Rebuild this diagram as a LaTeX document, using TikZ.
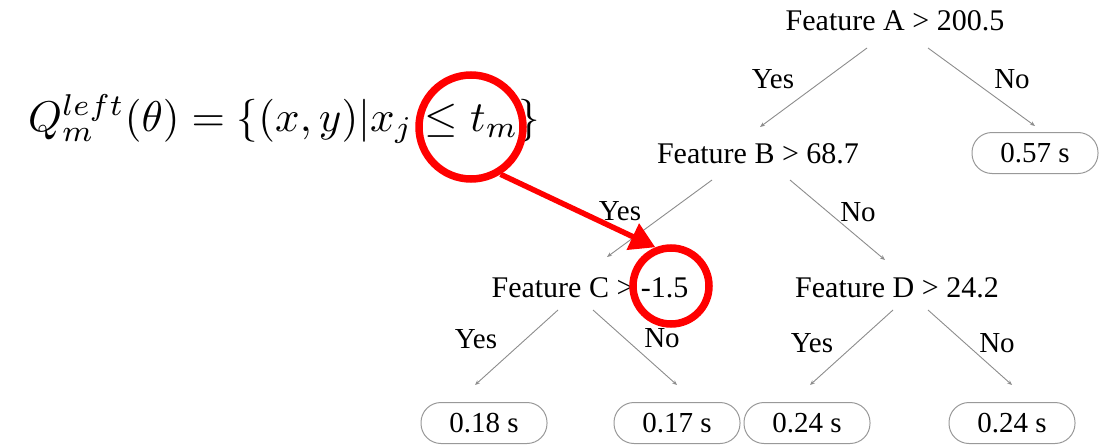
\documentclass[tikz,border=0pt]{standalone}
\usepackage{fontspec}
\setmainfont{Liberation Serif}
\usetikzlibrary{calc,arrows.meta}
\begin{document}
\begin{tikzpicture}[x=1pt,y=-1pt,
  test/.style={anchor=base,inner sep=0pt,font=\fontsize{30}{33}\selectfont},
  lab/.style={anchor=base,inner sep=0pt,font=\fontsize{29}{32}\selectfont},
  leaf/.style={draw=black!40,line width=1pt,rounded corners=20pt,minimum width=126pt,
    minimum height=41pt,inner sep=0pt,font=\fontsize{29}{32}\selectfont},
  edge/.style={draw=black!45,line width=0.9pt,-{Stealth[length=5pt,width=4pt]}},
  hiring/.style={circle,draw=red,line width=7.5pt,inner sep=0pt},
  pointer/.style={draw=red,line width=5.5pt,-{Triangle[length=25pt,width=28pt]}}]
\useasboundingbox (0,0) rectangle (1115,447);

% formula
\node[anchor=base west,inner sep=0pt] (f) at (28,131)
  {\scalebox{4.3}{$Q_m^{left}(\theta)=\{(x,y)|x_j\leq t_m\}$}};

% decision nodes
\node[test] (A) at (895,30) {Feature A > 200.5};
\node[test] (B) at (758,163) {Feature B > 68.7};
\node[test] (C) at (590,297) {Feature C > -1.5};
\node[test] (D) at (897,297) {Feature D > 24.2};

% leaves
\node[leaf] (l57) at (1035,153) {0.57 s};
\node[leaf] (l18) at (484,423) {0.18 s};
\node[leaf] (l17) at (677,423) {0.17 s};
\node[leaf] (l24a) at (807,423) {0.24 s};
\node[leaf] (l24b) at (1012,423) {0.24 s};

% branches
\draw[edge] ($(A.base)+(-28,18)$) -- ($(B.base)+(2,-36)$);
\draw[edge] ($(A.base)+(33,18)$) -- ($(l57.north)+(0,-6)$);
\draw[edge] ($(B.base)+(-46,17)$) -- ($(C.base)+(17,-40)$);
\draw[edge] ($(B.base)+(32,17)$) -- ($(D.base)+(-12,-37)$);
\draw[edge] ($(C.base)+(-32,13)$) -- ($(l18.north)+(-9,-17)$);
\draw[edge] ($(C.base)+(3,13)$) -- ($(l17.north)+(0,-17)$);
\draw[edge] ($(D.base)+(-4,13)$) -- ($(l24a.north)+(3,-17)$);
\draw[edge] ($(D.base)+(31,13)$) -- ($(l24b.north)+(0,-17)$);

% branch labels
\node[lab] (ya) at (773,88) {Yes};
\node[lab] (na) at (1012,88) {No};
\node[lab] (yb) at (620,220) {Yes};
\node[lab] (nb) at (858,221) {No};
\node[lab] (yc) at (476,348) {Yes};
\node[lab] (nc) at (662,347) {No};
\node[lab] (yd) at (812,352) {Yes};
\node[lab] (nd) at (997,352) {No};

% red highlight
\node[hiring,minimum size=104pt] (r1) at (471,127) {};
\node[hiring,minimum size=76pt] (r2) at (671,286) {};
\draw[pointer] (r1.-58) -- (r2.112);
\end{tikzpicture}
\end{document}
